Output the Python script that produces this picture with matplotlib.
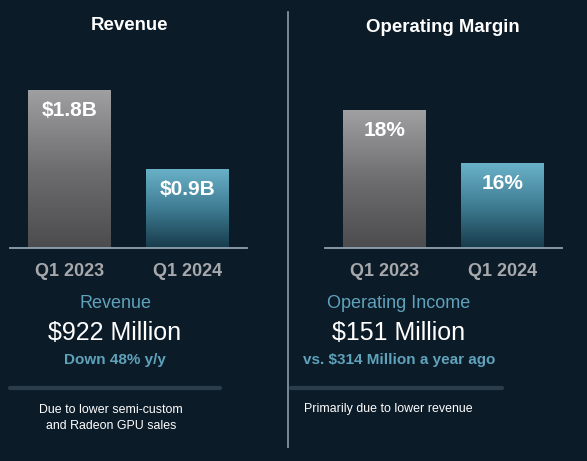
import numpy as np
import matplotlib
matplotlib.use('Agg')
import matplotlib.pyplot as plt
from matplotlib.colors import LinearSegmentedColormap

plt.rcParams['font.family'] = ['Liberation Sans', 'DejaVu Sans']

quarters = ['Q1 2023', 'Q1 2024']
revenue = [1.8, 0.9]
revenue_labels = ['$1.8B', '$0.9B']
margin = [18, 16]
margin_labels = ['18%', '16%']

BG = '#0c1b28'
W, H = 587, 461

fig = plt.figure(figsize=(W / 100, H / 100), dpi=100, facecolor=BG)

gray_cmap = LinearSegmentedColormap.from_list('g', ['#4c4c4f', '#6e6e71', '#a0a0a3'])
teal_cmap = LinearSegmentedColormap.from_list('t', ['#173b4b', '#3f7d93', '#6ab2c9'])
grad = np.linspace(0, 1, 256).reshape(-1, 1)


def px_axes(x0, x1, ytop, ybot):
    return fig.add_axes([x0 / W, 1 - ybot / H, (x1 - x0) / W, (ybot - ytop) / H])


def ftext(x, y, s, **kw):
    fig.text(x / W, 1 - y / H, s, ha='center', va='center', **kw)


def bar_panel(ax, values, labels, ylim):
    ax.set_facecolor(BG)
    bars = ax.bar([0, 1], values, width=0.70, color='none', edgecolor='none')
    for i, (b, cmap) in enumerate(zip(bars, [gray_cmap, teal_cmap])):
        x0 = b.get_x()
        x1 = x0 + b.get_width()
        im = ax.imshow(grad, cmap=cmap, origin='lower', aspect='auto',
                       extent=(x0, x1, ylim[0], values[i]), zorder=1)
        im.set_clip_path(b)
        ax.annotate(labels[i], (i, values[i]), xytext=(0, -14.5),
                    textcoords='offset points', ha='center', va='center',
                    color='white', fontsize=15, fontweight='bold', zorder=3)
    ax.set_xlim(-0.5, 1.5)
    ax.set_ylim(*ylim)
    for s in ['top', 'right', 'left']:
        ax.spines[s].set_visible(False)
    ax.spines['bottom'].set_color('#8fa3b1')
    ax.spines['bottom'].set_linewidth(1.3)
    ax.set_yticks([])
    ax.set_xticks([0, 1])
    ax.set_xticklabels(quarters, color='#a6a8ab', fontsize=13, fontweight='bold')
    ax.tick_params(axis='x', length=0, pad=10.5)


ax1 = px_axes(10, 247, 60, 248)
bar_panel(ax1, revenue, revenue_labels, (0, 188 / 87.8))

ax2 = px_axes(325, 562, 60, 248)
bar_panel(ax2, margin, margin_labels, (12.8, 12.8 + 188 / 26.5))

# titles
ftext(129, 26, 'Revenue', color='white', fontsize=13.4, fontweight='bold')
ftext(443, 28, 'Operating Margin', color='white', fontsize=13.4, fontweight='bold')

# divider
fig.add_artist(plt.Line2D([288 / W, 288 / W], [1 - 12 / H, 1 - 447 / H],
                          color='#7f93a2', lw=1.3, transform=fig.transFigure))

# summary text
blue = '#5fa2bb'
ftext(115, 303, 'Revenue', color=blue, fontsize=13)
ftext(115, 333, '$922 Million', color='white', fontsize=18)
ftext(115, 360, 'Down 48% y/y', color=blue, fontsize=11, fontweight='bold')

ftext(399, 303, 'Operating Income', color=blue, fontsize=13)
ftext(399, 333, '$151 Million', color='white', fontsize=18)
ftext(399, 360, 'vs. $314 Million a year ago', color=blue, fontsize=11, fontweight='bold')

# separators
for xa, xb in [(10, 220), (291, 502)]:
    fig.add_artist(plt.Line2D([xa / W, xb / W], [1 - 388 / H, 1 - 388 / H],
                              color='#2b3d4b', lw=3, solid_capstyle='round',
                              transform=fig.transFigure))

ftext(111, 418, 'Due to lower semi-custom\nand Radeon GPU sales', color='white',
      fontsize=8.9, linespacing=1.5)
ftext(388, 409, 'Primarily due to lower revenue', color='white', fontsize=8.9)

fig.savefig('out.png', dpi=100, facecolor=BG)
